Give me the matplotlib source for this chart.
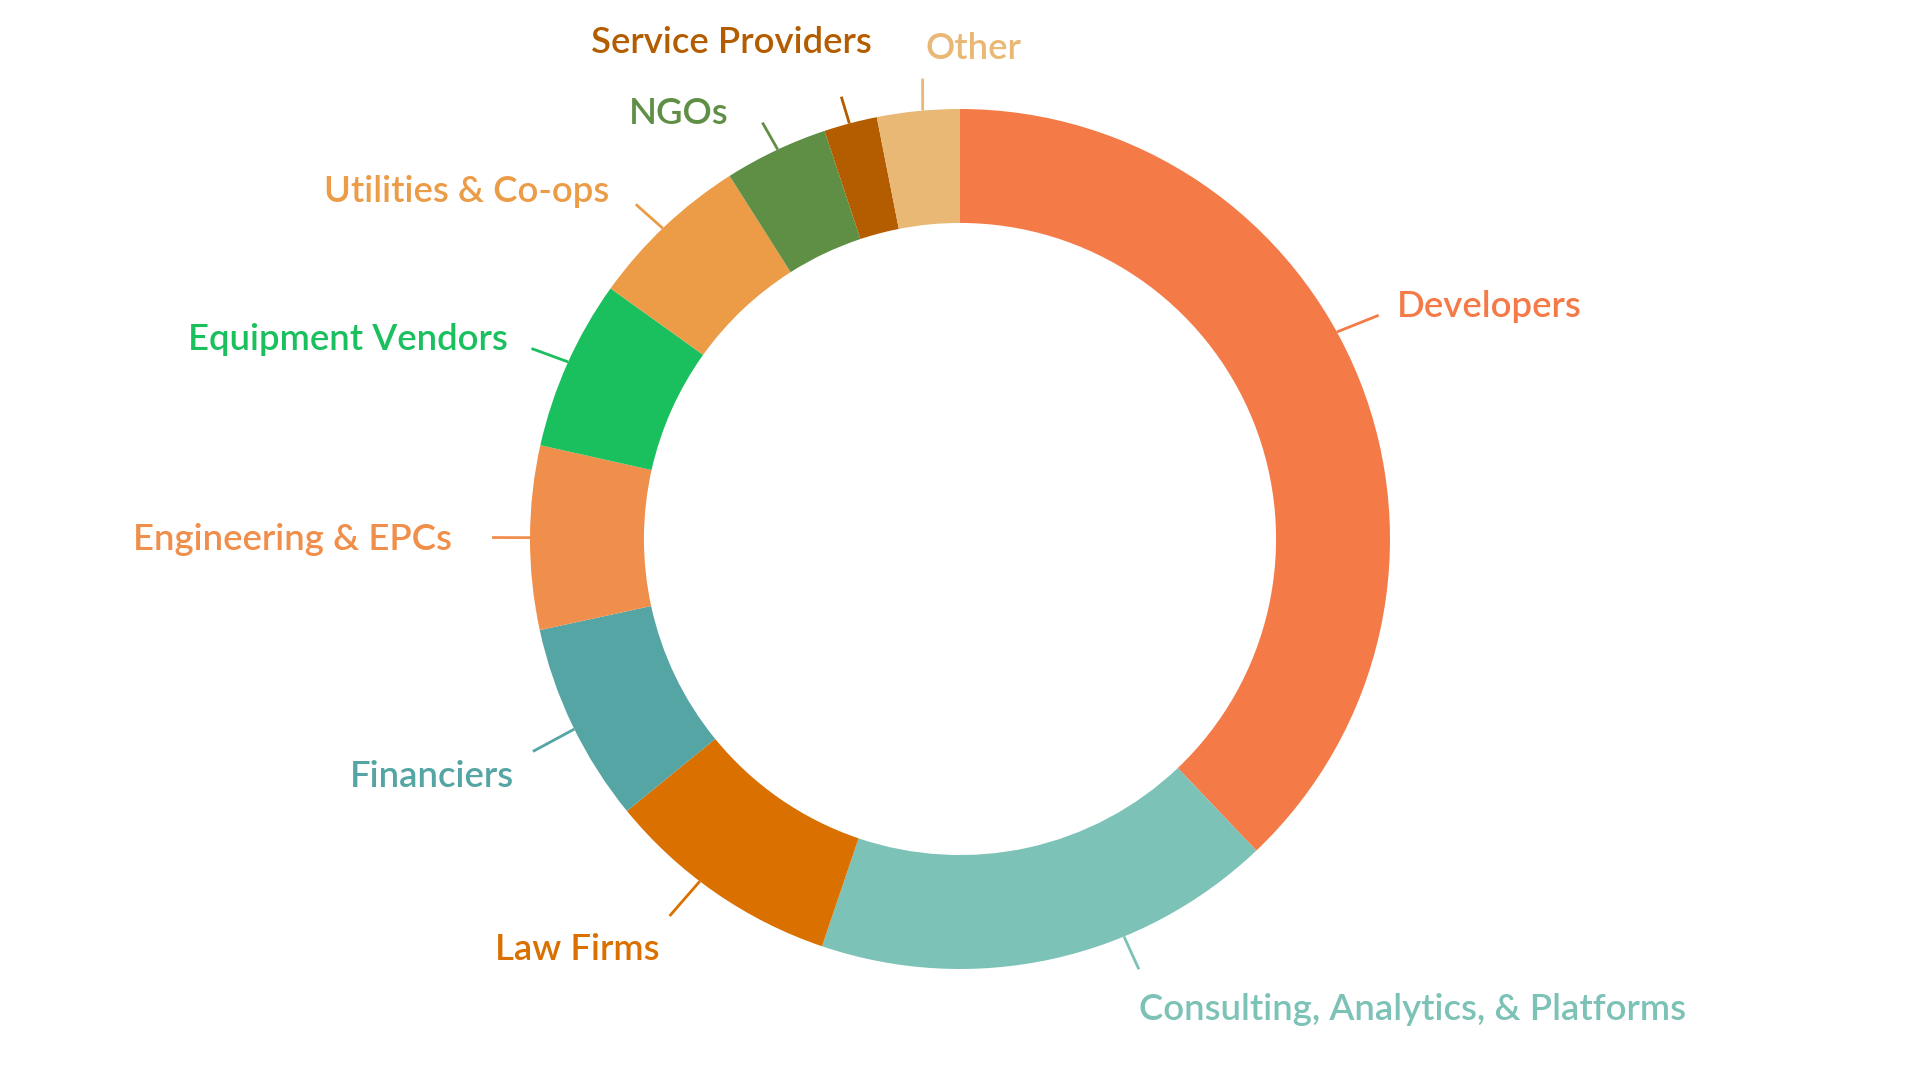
import numpy as np
import matplotlib
matplotlib.use("Agg")
import matplotlib.pyplot as plt

# ---- data ----
categories = ["Developers", "Consulting, Analytics, & Platforms", "Law Firms",
              "Financiers", "Engineering & EPCs", "Equipment Vendors",
              "Utilities & Co-ops", "NGOs", "Service Providers", "Other"]
shares = [37.9, 17.3, 8.9, 7.5, 6.9, 6.4, 6.1, 3.9, 2.0, 3.1]
colors = ["#F47A48", "#7CC2B6", "#D97000", "#54A5A3", "#F08E4B",
          "#1ABF5E", "#EC9B47", "#5E8F45", "#B35C00", "#E8B874"]

# ---- label layout (leader start offset deg, leader direction offset deg,
#      leader length px, text dx px, text dy px (baseline), ha) ----
lead_off = [7.0, 10.0, -2.5, 0.5, 0.0, -0.2, 0.35, -0.3, 0.15, -0.6]
dir_off = [0.0, 12.0, -6.3, 2.6, 0.0, 4.0, 5.0, 4.2, 2.0, -5.5]
lead_len = [45, 36, 46, 47, 38, 39, 36, 31, 28, 32]
txt_dx = [18, 0, -10, -19, -40, -24, -27, -34, 30, 3]
txt_dy = [-2, -51, -44, -36, -12, -2, 2, -1, 44, 20]
txt_ha = ["left", "left", "right", "right", "right", "right", "right",
          "right", "right", "left"]

W, H = 1920, 1080
R_PX = 430.0
CX, CY = 960.0, 539.0

fig = plt.figure(figsize=(W / 100, H / 100), dpi=100)
fig.patch.set_facecolor("white")
ax = fig.add_axes([0, 0, 1, 1])

wedges, _ = ax.pie(shares, colors=colors, startangle=90, counterclock=False,
                   radius=1.0, wedgeprops=dict(width=0.265, linewidth=0))

ax.set_xlim(-CX / R_PX, (W - CX) / R_PX)
ax.set_ylim(-(H - CY) / R_PX, CY / R_PX)
ax.set_aspect("auto")
ax.axis("off")

for i, w in enumerate(wedges):
    mid = 0.5 * (w.theta1 + w.theta2)
    a0 = np.deg2rad(mid + lead_off[i])
    ad = np.deg2rad(mid + dir_off[i])
    x0, y0 = np.cos(a0), np.sin(a0)
    L = lead_len[i] / R_PX
    x1, y1 = x0 + L * np.cos(ad), y0 + L * np.sin(ad)
    ax.plot([x0, x1], [y0, y1], color=colors[i], lw=2.0,
            solid_capstyle="butt")
    ax.annotate(categories[i], xy=(x1, y1), xytext=(txt_dx[i], txt_dy[i]),
                textcoords="offset pixels", ha=txt_ha[i], va="baseline",
                color=colors[i], fontsize=26.3, fontweight="semibold",
                family=["Lato", "DejaVu Sans"])

fig.savefig("out.png", dpi=100, facecolor="white")
